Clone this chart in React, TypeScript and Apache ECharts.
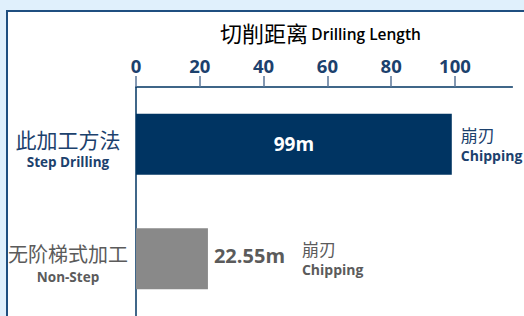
import React, { useEffect, useRef } from "react";
import * as echarts from "echarts";

const categories = ["此加工方法", "无阶梯式加工"];
const categoriesEn = ["Step Drilling", "Non-Step"];
const values = [99, 22.55];
const valueLabels = ["99m", "22.55m"];
const resultCn = ["崩刃", "崩刃"];
const resultEn = ["Chipping", "Chipping"];
const tickValues = [0, 20, 40, 60, 80, 100];

const NAVY = "#003462";
const NAVY_TEXT = "#1c416d";
const GRAY_BAR = "#898989";
const GRAY_TEXT = "#5b5b5b";
const CJK = "'Noto Sans CJK SC', sans-serif";
const LAT = "'Open Sans', 'Noto Sans', sans-serif";

export default function App() {
  const ref = useRef<HTMLDivElement>(null);
  useEffect(() => {
    document.body.style.margin = "0";
    const chart = echarts.init(ref.current!, null, { renderer: "svg" });
    const option: any = {
      animation: false,
      backgroundColor: "#e0f0fc",
      graphic: [
        {
          type: "rect",
          shape: { x: 7, y: 11, width: 560, height: 340 },
          style: { fill: "#ffffff", stroke: "#1f4f80", lineWidth: 2 },
          z: -10,
        },
        {
          type: "text",
          left: 220,
          top: 21,
          style: {
            text: "{a|切削距离} {b|Drilling Length}",
            rich: {
              a: { fontFamily: CJK, fontSize: 22, color: NAVY_TEXT },
              b: { fontFamily: LAT, fontSize: 15.5, fontWeight: 600, color: NAVY_TEXT, padding: [4, 0, 0, 0] },
            },
          },
        },
      ],
      grid: { left: 136, top: 87, right: 11.6, bottom: 0, containLabel: false },
      xAxis: {
        type: "value",
        position: "top",
        min: 0,
        max: 118,
        interval: 20,
        splitLine: { show: false },
        axisLine: { show: true, lineStyle: { color: NAVY, width: 1.5 } },
        axisTick: {
          show: true,
          length: 11,
          customValues: tickValues,
          lineStyle: { color: "#5b7699", width: 1.5 },
        },
        axisLabel: {
          customValues: tickValues,
          margin: 12,
          fontFamily: LAT,
          fontSize: 18.5,
          fontWeight: "bold",
          color: NAVY_TEXT,
        },
      },
      yAxis: {
        type: "category",
        inverse: true,
        data: categories,
        axisLine: { show: true, lineStyle: { color: NAVY, width: 1.5 } },
        axisTick: { show: false },
        axisLabel: {
          margin: 68,
          align: "center",
          padding: [9, 0, 0, 0],
          formatter: (v: string, i: number) =>
            i === 0 ? `{a|${v}}\n{b|${categoriesEn[i]}}` : `{c|${v}}\n{d|${categoriesEn[i]}}`,
          rich: {
            a: { fontFamily: CJK, fontSize: 21, color: NAVY_TEXT, lineHeight: 27, align: "center" },
            b: { fontFamily: LAT, fontSize: 13.5, fontWeight: "bold", color: NAVY_TEXT, lineHeight: 19, align: "center" },
            c: { fontFamily: CJK, fontSize: 20, color: GRAY_TEXT, lineHeight: 27, align: "center" },
            d: { fontFamily: LAT, fontSize: 13.5, fontWeight: "bold", color: GRAY_TEXT, lineHeight: 19, align: "center" },
          },
        },
      },
      series: [
        {
          type: "bar",
          barWidth: 61,
          data: values.map((v, i) => ({
            value: v,
            itemStyle: { color: i === 0 ? NAVY : GRAY_BAR },
            label: {
              show: true,
              position: i === 0 ? "inside" : "right",
              distance: 6,
              formatter: valueLabels[i],
              fontFamily: LAT,
              fontSize: i === 0 ? 19 : 20,
              fontWeight: "bold",
              color: i === 0 ? "#ffffff" : GRAY_TEXT,
              offset: i === 0 ? [0, 0] : [0, -3],
            },
          })),
        },
        {
          type: "bar",
          barWidth: 61,
          barGap: "-100%",
          silent: true,
          data: values.map((v, i) => ({
            value: v,
            itemStyle: { color: "rgba(0,0,0,0)" },
            label: {
              show: true,
              position: "right",
              distance: i === 0 ? 9 : 94,
              formatter: `{a|${resultCn[i]}}\n{b|${resultEn[i]}}`,
              rich: {
                a: { fontFamily: CJK, fontSize: 17, color: i === 0 ? NAVY_TEXT : GRAY_TEXT, lineHeight: 22 },
                b: { fontFamily: LAT, fontSize: 14, fontWeight: "bold", color: i === 0 ? NAVY_TEXT : GRAY_TEXT, lineHeight: 20 },
              },
            },
          })),
        },
      ],
    };
    chart.setOption(option);
    return () => chart.dispose();
  }, []);
  return <div ref={ref} style={{ position: "absolute", left: 0, top: 0, width: 524, height: 316 }} />;
}
